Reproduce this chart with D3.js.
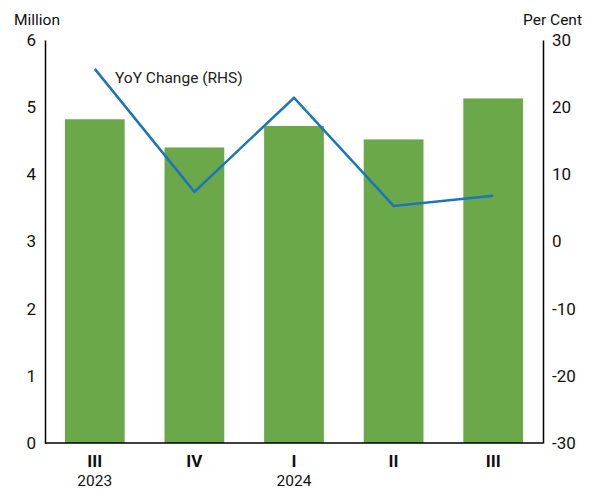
<!DOCTYPE html>
<html>
<head>
<meta charset="utf-8">
<script src="https://cdn.jsdelivr.net/npm/d3@7"></script>
<style>
  html, body { margin: 0; padding: 0; background: #fff; }
  svg { display: block; font-family: Roboto, "Noto Sans", sans-serif; }
</style>
</head>
<body>
<svg id="chart" width="595" height="490"></svg>
<script>
// Quarterly values (million) with year-on-year change (per cent)
const quarters = ["III", "IV", "I", "II", "III"];
const years = ["2023", "", "2024", "", ""];
const volumes = [4.82, 4.40, 4.72, 4.52, 5.13];
const yoyChange = [25.7, 7.4, 21.4, 5.3, 6.8];
const leftTicks = [0, 1, 2, 3, 4, 5, 6];
const rightTicks = [-30, -20, -10, 0, 10, 20, 30];

const svg = d3.select("#chart");
const plot = { left: 45, right: 543, top: 40, bottom: 443 };

const x = d3.scaleBand()
  .domain(d3.range(quarters.length))
  .range([plot.left, plot.right])
  .paddingInner(0.4)
  .paddingOuter(0.2);

const yL = d3.scaleLinear().domain([0, 6]).range([plot.bottom, plot.top]);
const yR = d3.scaleLinear().domain([-30, 30]).range([plot.bottom, plot.top]);

// Bars
svg.append("g")
  .selectAll("rect")
  .data(volumes)
  .join("rect")
  .attr("x", (d, i) => x(i))
  .attr("width", x.bandwidth())
  .attr("y", d => yL(d))
  .attr("height", d => yL(0) - yL(d))
  .attr("fill", "#6aa84a");

// YoY line
const line = d3.line()
  .x((d, i) => x(i) + x.bandwidth() / 2)
  .y(d => yR(d));

svg.append("path")
  .datum(yoyChange)
  .attr("d", line)
  .attr("fill", "none")
  .attr("stroke", "#1b75bb")
  .attr("stroke-width", 2.5)
  .attr("stroke-linejoin", "miter");

svg.append("text")
  .attr("x", 115)
  .attr("y", 83)
  .attr("font-size", 15.5)
  .attr("fill", "#222")
  .text("YoY Change (RHS)");

// Axes
const leftAxis = d3.axisLeft(yL).tickValues(leftTicks).tickSize(0).tickPadding(9).tickFormat(d3.format("d"));
const rightAxis = d3.axisRight(yR).tickValues(rightTicks).tickSize(0).tickPadding(9).tickFormat(d => d < 0 ? "-" + Math.abs(d) : d);

const gL = svg.append("g").attr("transform", `translate(${plot.left},0)`).call(leftAxis);
const gR = svg.append("g").attr("transform", `translate(${plot.right},0)`).call(rightAxis);
[gL, gR].forEach(g => {
  g.select(".domain").attr("stroke", "#000").attr("stroke-width", 1.5);
  g.selectAll("text").attr("font-size", 17).attr("fill", "#111").attr("font-family", "Roboto, sans-serif");
});

// Baseline
svg.append("line")
  .attr("x1", plot.left).attr("x2", plot.right)
  .attr("y1", plot.bottom).attr("y2", plot.bottom)
  .attr("stroke", "#000").attr("stroke-width", 1.5);

// Category labels
const cats = svg.append("g");
cats.selectAll("text.q")
  .data(quarters)
  .join("text")
  .attr("class", "q")
  .attr("x", (d, i) => x(i) + x.bandwidth() / 2)
  .attr("y", 467)
  .attr("text-anchor", "middle")
  .attr("font-size", 17)
  .attr("font-weight", "bold")
  .attr("fill", "#111")
  .text(d => d);

cats.selectAll("text.y")
  .data(years)
  .join("text")
  .attr("class", "y")
  .attr("x", (d, i) => x(i) + x.bandwidth() / 2)
  .attr("y", 486)
  .attr("text-anchor", "middle")
  .attr("font-size", 15.5)
  .attr("fill", "#111")
  .text(d => d);

// Axis titles
svg.append("text").attr("x", 14).attr("y", 25).attr("font-size", 15.5).attr("fill", "#111").text("Million");
svg.append("text").attr("x", 582).attr("y", 25).attr("text-anchor", "end").attr("font-size", 15.5).attr("fill", "#111").text("Per Cent");
</script>
</body>
</html>
